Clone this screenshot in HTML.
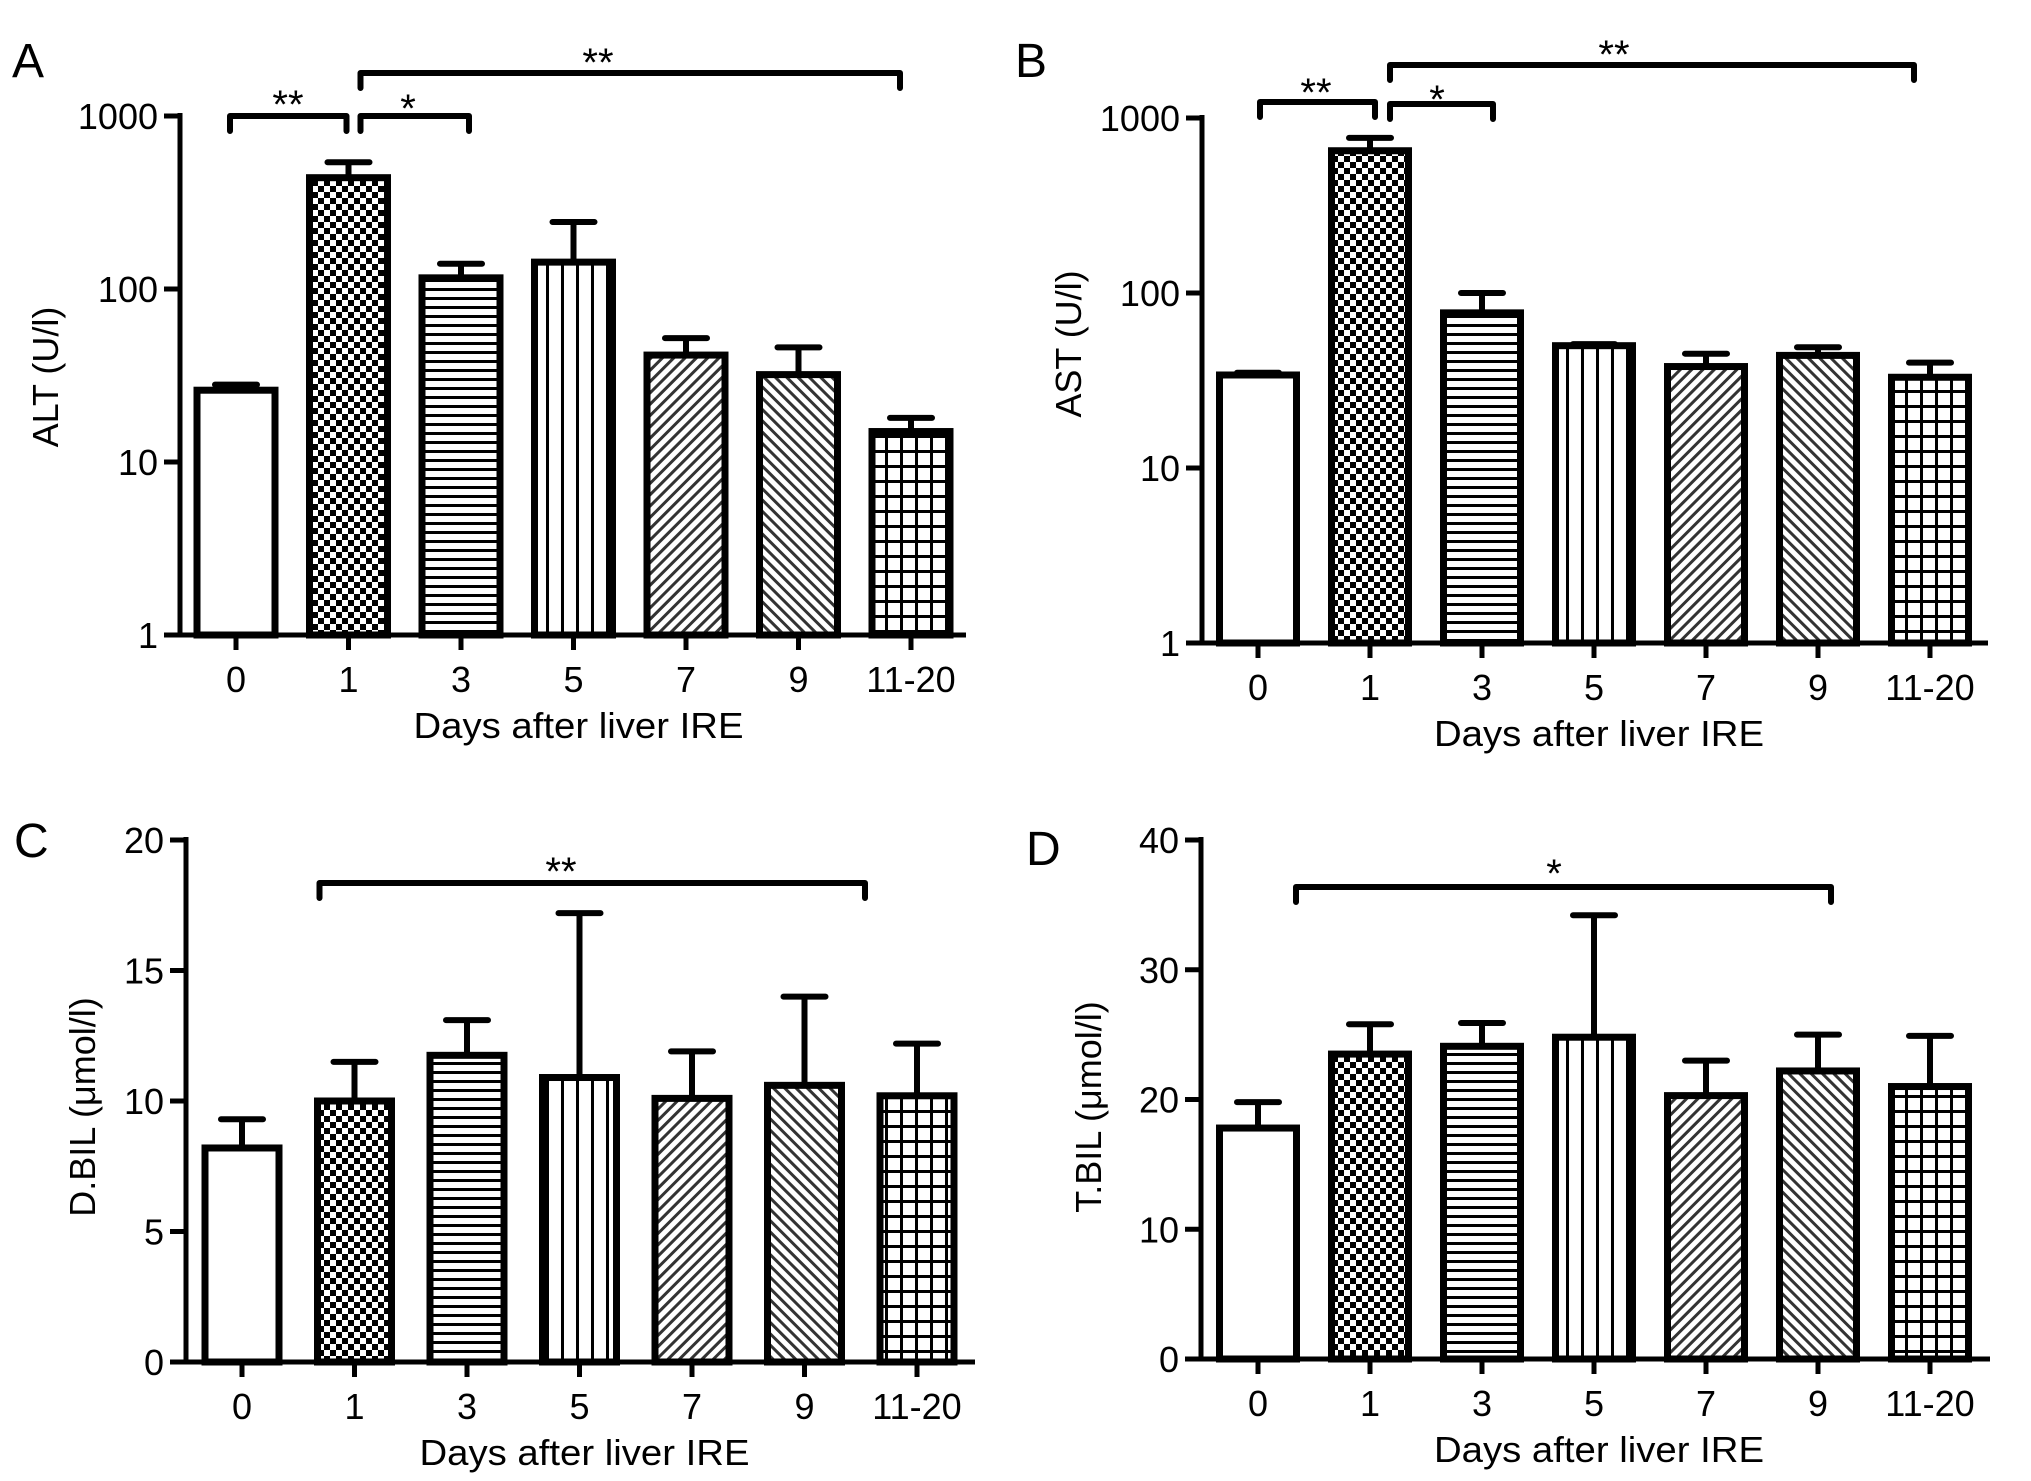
<!DOCTYPE html>
<html><head><meta charset="utf-8"><style>
html,body{margin:0;padding:0;background:#fff}
svg{display:block}
text{font-family:"Liberation Sans",Arial,sans-serif;fill:#000}
</style></head><body>
<svg id="fig" width="2031" height="1481" viewBox="0 0 2031 1481" xmlns="http://www.w3.org/2000/svg">
<defs>
<pattern id="p-check" patternUnits="userSpaceOnUse" width="12" height="12"><rect width="12" height="12" fill="#fff"/><rect x="0" y="0" width="6" height="6" fill="#000"/><rect x="6" y="6" width="6" height="6" fill="#000"/></pattern>
<pattern id="p-hlines" patternUnits="userSpaceOnUse" width="9" height="9"><rect width="9" height="9" fill="#fff"/><rect y="0" width="9" height="3" fill="#000"/></pattern>
<pattern id="p-vlines" patternUnits="userSpaceOnUse" width="15" height="15"><rect width="15" height="15" fill="#fff"/><rect x="6" width="3" height="15" fill="#000"/></pattern>
<pattern id="p-diag1" patternUnits="userSpaceOnUse" width="8" height="8" patternTransform="rotate(45)"><rect width="8" height="8" fill="#fff"/><rect width="3" height="8" fill="#333"/></pattern>
<pattern id="p-diag2" patternUnits="userSpaceOnUse" width="8" height="8" patternTransform="rotate(-45)"><rect width="8" height="8" fill="#fff"/><rect width="3" height="8" fill="#333"/></pattern>
<pattern id="p-grid" patternUnits="userSpaceOnUse" width="15" height="15"><rect width="15" height="15" fill="#fff"/><rect width="3" height="15" fill="#000"/><rect width="15" height="3" fill="#000"/></pattern>
</defs>
</svg>
<script>
const categories = ['0','1','3','5','7','9','11-20'];
const altMeans = [26, 440, 116, 143, 41.5, 32, 15];
const altErr = [28, 540, 140, 244, 52, 46, 18];
const astMeans = [34, 650, 77, 50, 38, 44, 33];
const astErr = [35, 770, 100, 51, 45, 49, 40];
const dbilMeans = [8.2, 10.0, 11.75, 10.9, 10.1, 10.6, 10.2];
const dbilErr = [9.3, 11.5, 13.1, 17.2, 11.9, 14.0, 12.2];
const tbilMeans = [17.8, 23.5, 24.1, 24.8, 20.3, 22.2, 21.0];
const tbilErr = [19.8, 25.8, 25.9, 34.2, 23.0, 25.0, 24.9];
const logTicks = [1, 10, 100, 1000];
const dbilTicks = [0, 5, 10, 15, 20];
const tbilTicks = [0, 10, 20, 30, 40];
const fills = ['#fff','url(#p-check)','url(#p-hlines)','url(#p-vlines)','url(#p-diag1)','url(#p-diag2)','url(#p-grid)'];

const NS = 'http://www.w3.org/2000/svg';
const svg = document.getElementById('fig');
function mk(tag, attrs, parent) {
  const e = document.createElementNS(NS, tag);
  for (const k in attrs) e.setAttribute(k, attrs[k]);
  (parent || svg).appendChild(e);
  return e;
}

const panels = [
  {id:'a', letter:'A', lx:12, ly:77, title:'ALT (U/l)', tx:45, ty:377, means:altMeans, errs:altErr, ticks:logTicks, log:true, min:1, max:1000,
   axisX:180, x0:236, step:112.5, yTop:116, yBot:635, xa0:167, xa1:966, bw:78,
   brackets:[{a:0,b:1,da:-6,db:-2,y:116,s:'**',sx:288,sy:95},{a:1,b:2,da:12,db:8,y:116,s:'*',sx:408,sy:99},{a:1,b:6,da:12,db:-11,y:73,s:'**',sx:598,sy:53}]},
  {id:'b', letter:'B', lx:1015, ly:77, title:'AST (U/l)', tx:1068, ty:344, means:astMeans, errs:astErr, ticks:logTicks, log:true, min:1, max:1000,
   axisX:1202, x0:1258, step:112, yTop:118, yBot:643, xa0:1188, xa1:1988, bw:77,
   brackets:[{a:0,b:1,da:2,db:5,y:102,s:'**',sx:1316,sy:83},{a:1,b:2,da:20,db:11,y:104,s:'*',sx:1437,sy:90},{a:1,b:6,da:20,db:-16,y:65,s:'**',sx:1614,sy:45}]},
  {id:'c', letter:'C', lx:14, ly:857, title:'D.BIL (μmol/l)', tx:82, ty:1107, means:dbilMeans, errs:dbilErr, ticks:dbilTicks, log:false, min:0, max:20,
   axisX:186, x0:242, step:112.5, yTop:840, yBot:1362, xa0:170, xa1:975, bw:74,
   brackets:[{a:1,b:6,da:-35,db:-52,y:883,s:'**',sx:561,sy:862}]},
  {id:'d', letter:'D', lx:1026, ly:865, title:'T.BIL (μmol/l)', tx:1088, ty:1107, means:tbilMeans, errs:tbilErr, ticks:tbilTicks, log:false, min:0, max:40,
   axisX:1201, x0:1258, step:112, yTop:840, yBot:1359, xa0:1188, xa1:1990, bw:77,
   brackets:[{a:0,b:5,da:38,db:13,y:887,s:'*',sx:1554,sy:864}]}
];

panels.forEach(p => {
  const g = mk('g', {});
  
  
  const yScale = v => p.log
    ? p.yBot - (Math.log10(v) - Math.log10(p.min)) / (Math.log10(p.max) - Math.log10(p.min)) * (p.yBot - p.yTop)
    : p.yBot - (v - p.min) / (p.max - p.min) * (p.yBot - p.yTop);
  const xScale = i => p.x0 + i * p.step;

  const L = mk('text', {x:p.lx, y:p.ly, 'font-size':48}, g);
  L.textContent = p.letter;
  
  

  p.means.forEach((m, i) => {
    const top = yScale(m), cx = xScale(i);
    const eb = mk('path', {d:`M${cx} ${top} L${cx} ${yScale(p.errs[i])} M${cx-21} ${yScale(p.errs[i])} L${cx+21} ${yScale(p.errs[i])}`, stroke:'#000', 'stroke-width':6, fill:'none', 'stroke-linecap':'round'}, g);
    
    
    const r = mk('rect', {x:cx - p.bw/2, y:top, width:p.bw, height:p.yBot - top, fill:fills[i], stroke:'#000', 'stroke-width':7}, g);
    
    
  });

  const ya = mk('line', {x1:p.axisX, y1:p.yTop-3, x2:p.axisX, y2:p.yBot, stroke:'#000', 'stroke-width':5}, g);
  
  
  p.ticks.forEach(t => {
    const y = yScale(t);
    mk('line', {x1:p.axisX-16, y1:y, x2:p.axisX, y2:y, stroke:'#000', 'stroke-width':5}, g);
    const tl = mk('text', {x:p.axisX-22, y:y+13, 'font-size':36, 'text-anchor':'end'}, g);
    tl.textContent = t;
    
    
  });
  const xa = mk('line', {x1:p.xa0, y1:p.yBot, x2:p.xa1, y2:p.yBot, stroke:'#000', 'stroke-width':5}, g);
  
  
  categories.forEach((c, i) => {
    const x = xScale(i);
    mk('line', {x1:x, y1:p.yBot, x2:x, y2:p.yBot+15, stroke:'#000', 'stroke-width':5}, g);
    const tl = mk('text', {x:x, y:p.yBot+57, 'font-size':36, 'text-anchor':'middle'}, g);
    tl.textContent = c;
    
    
  });
  const xt = mk('text', {x:xScale(3)+5, y:p.yBot+103, 'font-size':36, 'text-anchor':'middle', textLength:330, lengthAdjust:'spacingAndGlyphs'}, g);
  xt.textContent = 'Days after liver IRE';
  
  
  const yt = mk('text', {x:0, y:0, 'font-size':36, 'text-anchor':'middle', transform:`translate(${p.tx+13},${p.ty}) rotate(-90)`}, g);
  yt.textContent = p.title;
  
  

  p.brackets.forEach(b => {
    const x1 = xScale(b.a) + b.da, x2 = xScale(b.b) + b.db;
    const br = mk('path', {d:`M${x1} ${b.y+15} L${x1} ${b.y} L${x2} ${b.y} L${x2} ${b.y+15}`, stroke:'#000', 'stroke-width':6, fill:'none', 'stroke-linecap':'round', 'stroke-linejoin':'round'}, g);
    
    
    const st = mk('text', {x:b.sx, y:b.sy + 23, 'font-size':40, 'text-anchor':'middle'}, g);
    st.textContent = b.s;
    
    
  });
});
</script>
</body></html>
